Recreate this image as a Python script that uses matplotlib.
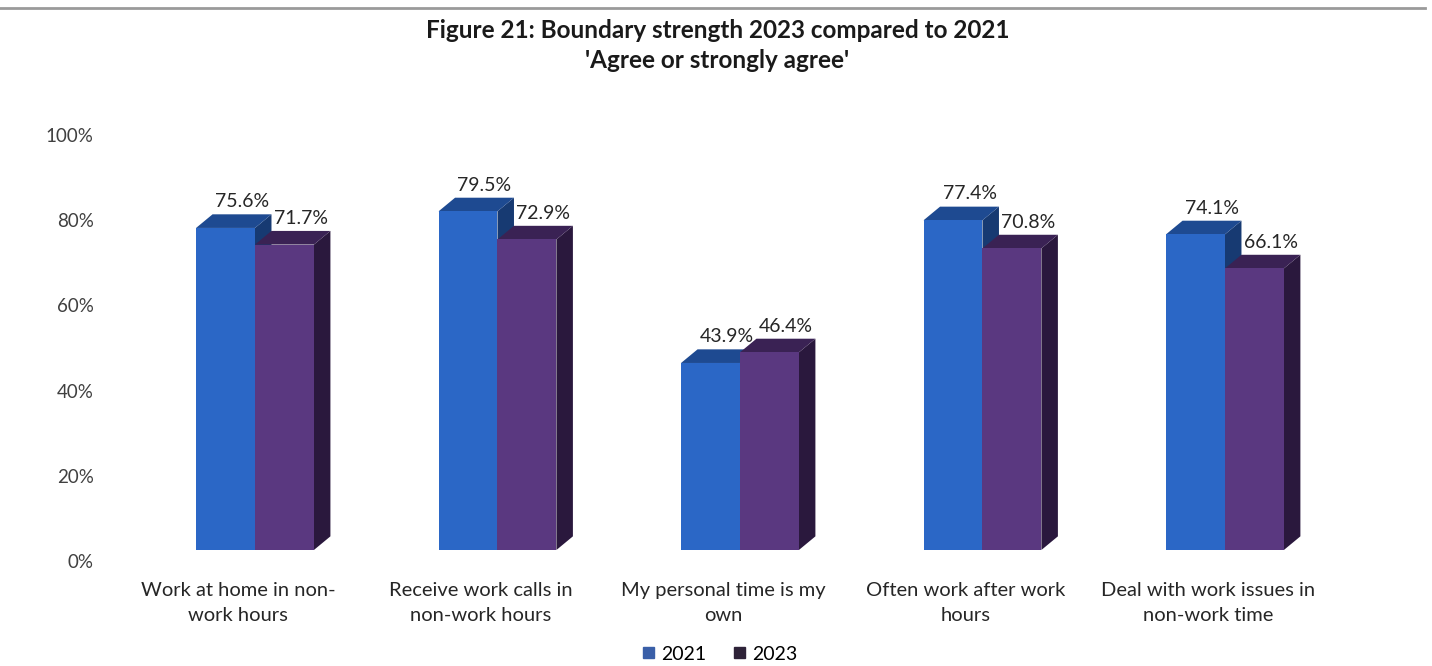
import numpy as np
import matplotlib.pyplot as plt
from matplotlib.lines import Line2D
from matplotlib.patches import Patch
from matplotlib.transforms import offset_copy

plt.rcParams['font.family'] = ['Lato', 'DejaVu Sans']

categories = ['Work at home in non-\nwork hours',
              'Receive work calls in\nnon-work hours',
              'My personal time is my\nown',
              'Often work after work\nhours',
              'Deal with work issues in\nnon-work time']
series = ['2021', '2023']
vals_2021 = [75.6, 79.5, 43.9, 77.4, 74.1]
vals_2023 = [71.7, 72.9, 46.4, 70.8, 66.1]
yticks = [0, 20, 40, 60, 80, 100]

# front / top / side shades for each series
shades = {
    '2021': ('#2B67C6', '#1E4A91', '#173A72'),
    '2023': ('#5A3880', '#3A2254', '#2A183D'),
}
legend_colors = ['#3A5FA8', '#2E2238']

fig = plt.figure(figsize=(14.32, 6.66), dpi=100)
ax = fig.add_axes([0.0934, 0.1742, 0.8467, 0.6396])
ax.set_xlim(-0.5, 4.5)
ax.set_ylim(0, 100)
ax.axis('off')

w = 0.243   # bar width
dx = 0.068  # depth offset, x
dy = 3.2    # depth offset, y


def bar3d(x0, h, front, top, side):
    # side face
    ax.fill([x0 + w, x0 + w + dx, x0 + w + dx, x0 + w],
            [0, dy, h + dy, h], color=side, lw=0)
    # top face
    ax.fill([x0, x0 + w, x0 + w + dx, x0 + dx],
            [h, h, h + dy, h + dy], color=top, lw=0)
    # front face
    ax.fill([x0, x0 + w, x0 + w, x0], [0, 0, h, h], color=front, lw=0)


x = np.arange(len(categories))
for i in x:
    for j, (name, vals) in enumerate(zip(series, [vals_2021, vals_2023])):
        x0 = i - w + j * w
        bar3d(x0, vals[i], *shades[name])
        lab_tr = offset_copy(ax.transData, fig=fig, y=3, units='points')
        ax.text(x0 + w / 2 + dx, vals[i] + dy, f'{vals[i]:.1f}%',
                transform=lab_tr, ha='center', va='bottom',
                fontsize=14, color='#262626')

# category labels under each group
cat_tr = offset_copy(ax.transData, fig=fig, y=-23, units='points')
for i, c in zip(x, categories):
    ax.text(i - 0.07, 0, c, transform=cat_tr, ha='center', va='top',
            fontsize=14.5, color='#262626', linespacing=1.55)

# value axis labels
tick_tr = offset_copy(ax.get_yaxis_transform(), fig=fig, x=0, y=-9, units='points')
for t in yticks:
    ax.text(-0.033, t, f'{t}%', transform=tick_tr, ha='right', va='center',
            fontsize=13.5, color='#404040')

fig.text(0.501, 1 - 31 / 666, 'Figure 21: Boundary strength 2023 compared to 2021',
         ha='center', va='center', fontsize=17.5, fontweight='bold', color='#1a1a1a')
fig.text(0.501, 1 - 60 / 666, "'Agree or strongly agree'",
         ha='center', va='center', fontsize=17.5, fontweight='bold', color='#1a1a1a')

fig.add_artist(Line2D([0, 0.995], [1 - 8 / 666, 1 - 8 / 666], color='#9a9a9a', lw=2))

handles = [Patch(color=c) for c in legend_colors]
fig.legend(handles, series, loc='center', bbox_to_anchor=(0.503, 1 - 654 / 666),
           ncol=2, frameon=False, fontsize=14, handlelength=0.55, handleheight=0.55,
           handletextpad=0.4, columnspacing=1.4)

fig.savefig('out.png', dpi=100, facecolor='white')
